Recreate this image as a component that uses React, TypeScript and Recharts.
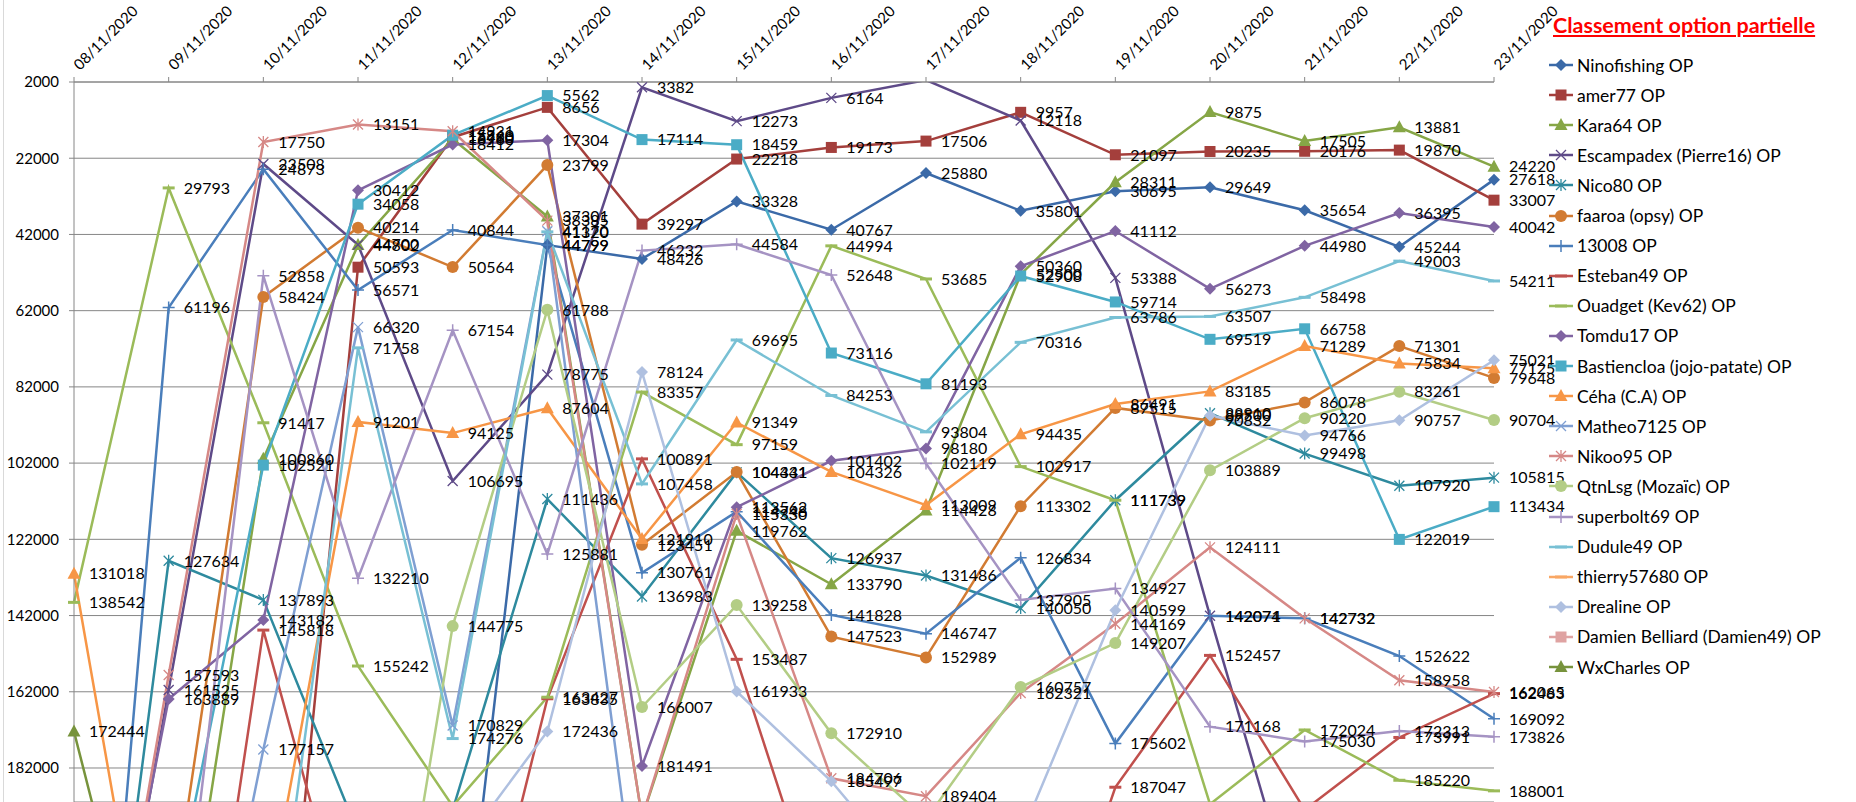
import React from 'react';
import { LineChart, Line, XAxis, YAxis, CartesianGrid, LabelList } from 'recharts';

const dates = [
  '08/11/2020', '09/11/2020', '10/11/2020', '11/11/2020', '12/11/2020', '13/11/2020',
  '14/11/2020', '15/11/2020', '16/11/2020', '17/11/2020', '18/11/2020', '19/11/2020',
  '20/11/2020', '21/11/2020', '22/11/2020', '23/11/2020',
];
const yTicks = [2000, 22000, 42000, 62000, 82000, 102000, 122000, 142000, 162000, 182000];
const Y_MIN = 2000;
const Y_MAX = 190924;

const ninofishing = [300000, 300000, 300000, 300000, 260000, 44799, 48426, 33328, 40767, 25880, 35801, 30695, 29649, 35654, 45244, 27618];
const amer77 = [300000, 300000, 300000, 50593, 16480, 8656, 39297, 22218, 19173, 17506, 9957, 21097, 20235, 20176, 19870, 33007];
const kara64 = [300000, 260000, 100860, 44802, 16960, 37301, 195000, 119762, 133790, 114428, 52500, 28311, 9875, 17505, 13881, 24220];
const escampadex = [300000, 161525, 23508, 44700, 106695, 78775, 3382, 12273, 6164, 1500, 12118, 53388, 142074, 227000, 240000, 240000];
const nico80 = [320000, 127634, 137893, 199000, 193000, 111436, 136983, 104431, 126937, 131486, 140050, 111739, 88910, 99498, 107920, 105815];
const faaroa = [300000, 226000, 58424, 40214, 50564, 23799, 123451, 104341, 147523, 152989, 113302, 87515, 90832, 86078, 71301, 79648];
const p13008 = [350000, 61196, 24873, 56571, 40844, 44799, 130761, 114748, 141828, 146747, 126834, 175602, 142071, 142732, 152622, 169092];
const esteban49 = [312000, 312000, 145818, 236000, 264000, 163835, 100891, 153487, 230000, 240000, 260000, 187047, 152457, 193000, 173991, 162483];
const ouadget = [138542, 29793, 91417, 155242, 192000, 163427, 83357, 97159, 44994, 53685, 102917, 111739, 191500, 172024, 185220, 188001];
const tomdu17 = [290000, 163889, 143182, 30412, 18412, 17304, 181491, 113562, 101402, 98180, 50360, 41112, 56273, 44980, 36395, 40042];
const bastiencloa = [300000, 225000, 102521, 34058, 15960, 5562, 17114, 18459, 73116, 81193, 52908, 59714, 69519, 66758, 122019, 113434];
const ceha = [131018, 273000, 225000, 91201, 94125, 87604, 121910, 91349, 104326, 113009, 94435, 86491, 83185, 71289, 75834, 77125];
const matheo7125 = [300000, 300000, 177157, 66320, 170829, 41170, 230000, 250000, 250000, 250000, 250000, 250000, 250000, 250000, 250000, 250000];
const nikoo95 = [300000, 157593, 17750, 13151, 14931, 38385, 195000, 115330, 184706, 189404, 162321, 144169, 124111, 142732, 158958, 162065];
const qtnlsg = [300000, 300000, 300000, 295000, 144775, 61788, 166007, 139258, 172910, 195500, 160757, 149207, 103889, 90220, 83261, 90704];
const superbolt69 = [300000, 260000, 52858, 132210, 67154, 125881, 46232, 44584, 52648, 102119, 137905, 134927, 171168, 175030, 172313, 173826];
const dudule49 = [300000, 300000, 254000, 71758, 174276, 41320, 107458, 69695, 84253, 93804, 70316, 63786, 63507, 58498, 49003, 54211];
const thierry57680 = [260000, 260000, 260000, 260000, 260000, 260000, 260000, 260000, 260000, 260000, 260000, 260000, 260000, 260000, 260000, 260000];
const dreraline = [300000, 300000, 300000, 300000, 206000, 172436, 78124, 161933, 185497, 215000, 200000, 140599, 89500, 94766, 90757, 75021];
const damienBelliard = [260000, 260000, 260000, 260000, 260000, 260000, 260000, 260000, 260000, 260000, 260000, 260000, 260000, 260000, 260000, 260000];
const wxcharles = [172444, 270000, 270000, 270000, 270000, 270000, 270000, 270000, 270000, 270000, 270000, 270000, 270000, 270000, 270000, 270000];

type Shape = 'diamond' | 'square' | 'triangle' | 'x' | 'star' | 'circle' | 'plus' | 'dash';
interface SeriesDef { key: string; name: string; values: number[]; color: string; shape: Shape; }

const series: SeriesDef[] = [
  { key: 's1', name: 'Ninofishing OP', values: ninofishing, color: '#3B6AA8', shape: 'diamond' },
  { key: 's2', name: 'amer77 OP', values: amer77, color: '#A43F3C', shape: 'square' },
  { key: 's3', name: 'Kara64  OP', values: kara64, color: '#86A646', shape: 'triangle' },
  { key: 's4', name: 'Escampadex (Pierre16) OP', values: escampadex, color: '#5E4A88', shape: 'x' },
  { key: 's5', name: 'Nico80 OP', values: nico80, color: '#2E8A9E', shape: 'star' },
  { key: 's6', name: 'faaroa (opsy) OP', values: faaroa, color: '#D27B32', shape: 'circle' },
  { key: 's7', name: '13008 OP', values: p13008, color: '#4A7EBB', shape: 'plus' },
  { key: 's8', name: 'Esteban49 OP', values: esteban49, color: '#C0504D', shape: 'dash' },
  { key: 's9', name: 'Ouadget (Kev62) OP', values: ouadget, color: '#9BBB59', shape: 'dash' },
  { key: 's10', name: 'Tomdu17 OP', values: tomdu17, color: '#8064A2', shape: 'diamond' },
  { key: 's11', name: 'Bastiencloa (jojo-patate) OP', values: bastiencloa, color: '#4BACC6', shape: 'square' },
  { key: 's12', name: 'Céha (C.A) OP', values: ceha, color: '#F79646', shape: 'triangle' },
  { key: 's13', name: 'Matheo7125 OP', values: matheo7125, color: '#7F9FD2', shape: 'x' },
  { key: 's14', name: 'Nikoo95 OP', values: nikoo95, color: '#D68886', shape: 'star' },
  { key: 's15', name: 'QtnLsg (Mozaïc) OP', values: qtnlsg, color: '#B3CD85', shape: 'circle' },
  { key: 's16', name: 'superbolt69 OP', values: superbolt69, color: '#A593C3', shape: 'plus' },
  { key: 's17', name: 'Dudule49 OP', values: dudule49, color: '#78C0D4', shape: 'dash' },
  { key: 's18', name: 'thierry57680 OP', values: thierry57680, color: '#F9A764', shape: 'dash' },
  { key: 's19', name: 'Drealine OP', values: dreraline, color: '#AFC0E0', shape: 'diamond' },
  { key: 's20', name: 'Damien Belliard (Damien49) OP', values: damienBelliard, color: '#DFA3A2', shape: 'square' },
  { key: 's21', name: 'WxCharles OP', values: wxcharles, color: '#77933C', shape: 'triangle' },
];

const data = dates.map((date, i) => {
  const row: Record<string, any> = { date };
  series.forEach((s) => { row[s.key] = s.values[i]; });
  return row;
});

function marker(shape: Shape, cx: number, cy: number, color: string) {
  switch (shape) {
    case 'diamond':
      return <polygon points={`${cx},${cy - 6} ${cx + 6},${cy} ${cx},${cy + 6} ${cx - 6},${cy}`} fill={color} />;
    case 'square':
      return <rect x={cx - 5.5} y={cy - 5.5} width={11} height={11} fill={color} />;
    case 'triangle':
      return <polygon points={`${cx},${cy - 7} ${cx + 6.5},${cy + 5} ${cx - 6.5},${cy + 5}`} fill={color} />;
    case 'circle':
      return <circle cx={cx} cy={cy} r={6} fill={color} />;
    case 'x':
      return <path d={`M${cx - 5},${cy - 5}L${cx + 5},${cy + 5}M${cx - 5},${cy + 5}L${cx + 5},${cy - 5}`} stroke={color} strokeWidth={1.3} fill="none" />;
    case 'star':
      return <path d={`M${cx - 5},${cy - 5}L${cx + 5},${cy + 5}M${cx - 5},${cy + 5}L${cx + 5},${cy - 5}M${cx},${cy - 6}L${cx},${cy + 6}`} stroke={color} strokeWidth={1.3} fill="none" />;
    case 'plus':
      return <path d={`M${cx - 6},${cy}L${cx + 6},${cy}M${cx},${cy - 6}L${cx},${cy + 6}`} stroke={color} strokeWidth={1.5} fill="none" />;
    case 'dash':
    default:
      return <path d={`M${cx - 6},${cy}L${cx + 6},${cy}`} stroke={color} strokeWidth={3} fill="none" />;
  }
}

const makeDot = (shape: Shape, color: string) => (props: any) => {
  const { cx, cy, index, value } = props;
  const v = Array.isArray(value) ? value[1] : value;
  if (cx == null || cy == null || v == null || v < Y_MIN || v > Y_MAX) return <g key={`d${index}`} />;
  return <g key={`d${index}`}>{marker(shape, cx, cy, color)}</g>;
};

const renderLabel = (props: any) => {
  const { value, index } = props;
  const x = props.x ?? props.viewBox?.x;
  const y = props.y ?? props.viewBox?.y;
  if (value == null || value < Y_MIN || value > Y_MAX || x == null || y == null) return null;
  return (
    <text key={`l${index}`} x={x + 15} y={y} dy="0.36em" fontSize={16} fontFamily="Lato" fill="#000">
      {value}
    </text>
  );
};

const XTick = (props: any) => {
  const { x, payload } = props;
  const tx = x + 6;
  const ty = 71;
  return (
    <text x={tx} y={ty} transform={`rotate(-45 ${tx} ${ty})`} fontSize={15} fontFamily="Lato" fill="#000" textAnchor="start">
      {payload.value}
    </text>
  );
};

const AXIS = '#868686';

export default function App() {
  return (
    <div style={{ position: 'relative', width: 1856, height: 802, background: '#fff', overflow: 'hidden', fontFamily: 'Lato' }}>
      <style>{'body{margin:0;background:#fff;}'}</style>
      <div style={{ position: 'absolute', left: 3, top: 0, width: 1, height: 802, background: '#D9D9D9' }} />
      <LineChart width={1856} height={802} data={data} margin={{ top: 0, right: 362, bottom: 0, left: 0 }}>
        <CartesianGrid horizontal vertical={false} stroke={AXIS} strokeWidth={1} />
        <XAxis
          dataKey="date"
          orientation="top"
          height={82}
          interval={0}
          tickSize={5}
          tickLine={{ stroke: AXIS }}
          axisLine={{ stroke: AXIS }}
          tick={<XTick />}
        />
        <YAxis
          reversed
          domain={[Y_MIN, Y_MAX]}
          ticks={yTicks}
          allowDataOverflow
          interval={0}
          width={74}
          tickSize={5}
          tickMargin={10}
          tickLine={{ stroke: AXIS }}
          axisLine={{ stroke: AXIS }}
          tick={{ fontSize: 15, fill: '#000', fontFamily: 'Lato' }}
        />
        {series.map((s) => (
          <Line
            key={s.key}
            dataKey={s.key}
            name={s.name}
            type="linear"
            stroke={s.color}
            strokeWidth={2.5}
            dot={makeDot(s.shape, s.color)}
            activeDot={false}
            isAnimationActive={false}
          />
        ))}
        {series.map((s) => (
          <Line
            key={`lab-${s.key}`}
            dataKey={s.key}
            type="linear"
            stroke="none"
            dot={false}
            activeDot={false}
            legendType="none"
            isAnimationActive={false}
          >
            <LabelList dataKey={s.key} content={renderLabel} />
          </Line>
        ))}
      </LineChart>
      <div style={{ position: 'absolute', left: 1553, top: 12, fontSize: 21.5, fontWeight: 700, color: '#FF0000', textDecoration: 'underline', fontFamily: 'Lato', whiteSpace: 'nowrap' }}>
        Classement option partielle
      </div>
      {series.map((s, i) => (
        <div key={`leg-${s.key}`} style={{ position: 'absolute', left: 1549, top: 65 + i * 30.1 - 11, height: 22, display: 'flex', alignItems: 'center', whiteSpace: 'nowrap' }}>
          <svg width={24} height={22} style={{ display: 'block' }}>
            <line x1={0} y1={11} x2={24} y2={11} stroke={s.color} strokeWidth={2.5} />
            {marker(s.shape, 12, 11, s.color)}
          </svg>
          <span style={{ marginLeft: 4, fontSize: 17.5, fontFamily: 'Lato', color: '#000' }}>{s.name}</span>
        </div>
      ))}
    </div>
  );
}
